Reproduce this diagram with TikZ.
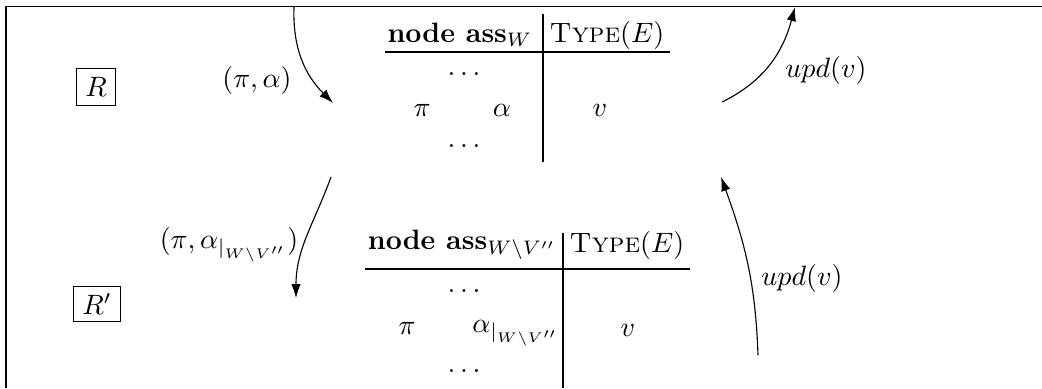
\documentclass[tikz,border=0pt]{standalone}
\usetikzlibrary{arrows.meta}
\begin{document}
\begin{tikzpicture}[x=0.357pt,y=-0.357pt,
  cell/.style={inner sep=0pt,anchor=center},
  rulebox/.style={draw,line width=0.4pt},
  tabline/.style={line width=0.4pt},
  frameline/.style={line width=0.6pt},
  conn/.style={line width=0.4pt,-{Latex[length=5pt,width=3.4pt]}},
  lbl/.style={inner sep=0pt,anchor=center}]
\useasboundingbox (0,0) rectangle (1042,388);
% frame
\coordinate (f0) at (6,388);
\coordinate (f1) at (6,6.5);
\coordinate (f2) at (1042,6.5);
\draw[frameline] (f0) -- (f1) -- (f2);
% boxes
\node[rulebox,inner xsep=3pt,inner ysep=3.3pt] (R) at (96,87) {$R$};
\node[rulebox,inner xsep=3pt,inner ysep=2.6pt] (Rp) at (97,304) {$R'$};
% top table
\node[cell] (h1) at (460,35) {\textbf{node ass}$_W$};
\node[cell] (h2) at (607,35) {\textsc{Type}$(E)$};
\node[cell] (d1) at (464,74) {$\dots$};
\node[cell] (p1) at (422,110) {$\pi$};
\node[cell] (a1) at (502,110) {$\alpha$};
\node[cell] (v1) at (600,110) {$v$};
\node[cell] (d2) at (464,146) {$\dots$};
\coordinate (hl1a) at (385,52);
\coordinate (hl1b) at (670,52);
\coordinate (vl1a) at (543,14);
\coordinate (vl1b) at (543,162);
\draw[tabline] (hl1a) -- (hl1b);
\draw[tabline] (vl1a) -- (vl1b);
% bottom table
\node[cell] (h3) at (462,245) {\textbf{node ass}$_{W\setminus V''}$};
\node[cell] (h4) at (627,245) {\textsc{Type}$(E)$};
\node[cell] (d3) at (464,291) {$\dots$};
\node[cell] (p2) at (407,328) {$\pi$};
\node[cell] (a2) at (516,333) {$\alpha_{|_{W\setminus V''}}$};
\node[cell] (v2) at (628,330) {$v$};
\node[cell] (d4) at (464,371) {$\dots$};
\coordinate (hl2a) at (365,269);
\coordinate (hl2b) at (690,269);
\coordinate (vl2a) at (563,233);
\coordinate (vl2b) at (563,388);
\draw[tabline] (hl2a) -- (hl2b);
\draw[tabline] (vl2a) -- (vl2b);
% connectors
\coordinate (s1) at (294,7);
\coordinate (t1) at (333,103);
\draw[conn] (s1) to[out=-92,in=135] (t1);
\node[lbl] (l1) at (257,80) {$(\pi,\alpha)$};
\coordinate (s2) at (722,102);
\coordinate (t2) at (795,7);
\draw[conn] (s2) to[out=26,in=-105] (t2);
\node[lbl] (l2) at (826,70) {$upd(v)$};
\coordinate (s3) at (331,177);
\coordinate (t3) at (296,298);
\draw[conn] (s3) to[out=-110,in=90] (t3);
\node[lbl] (l3) at (229,245) {$(\pi,\alpha_{|_{W\setminus V''}})$};
\coordinate (s4) at (758,355);
\coordinate (t4) at (721,177);
\draw[conn] (s4) to[out=92,in=-70] (t4);
\node[lbl] (l4) at (802,278) {$upd(v)$};
\end{tikzpicture}
\end{document}
